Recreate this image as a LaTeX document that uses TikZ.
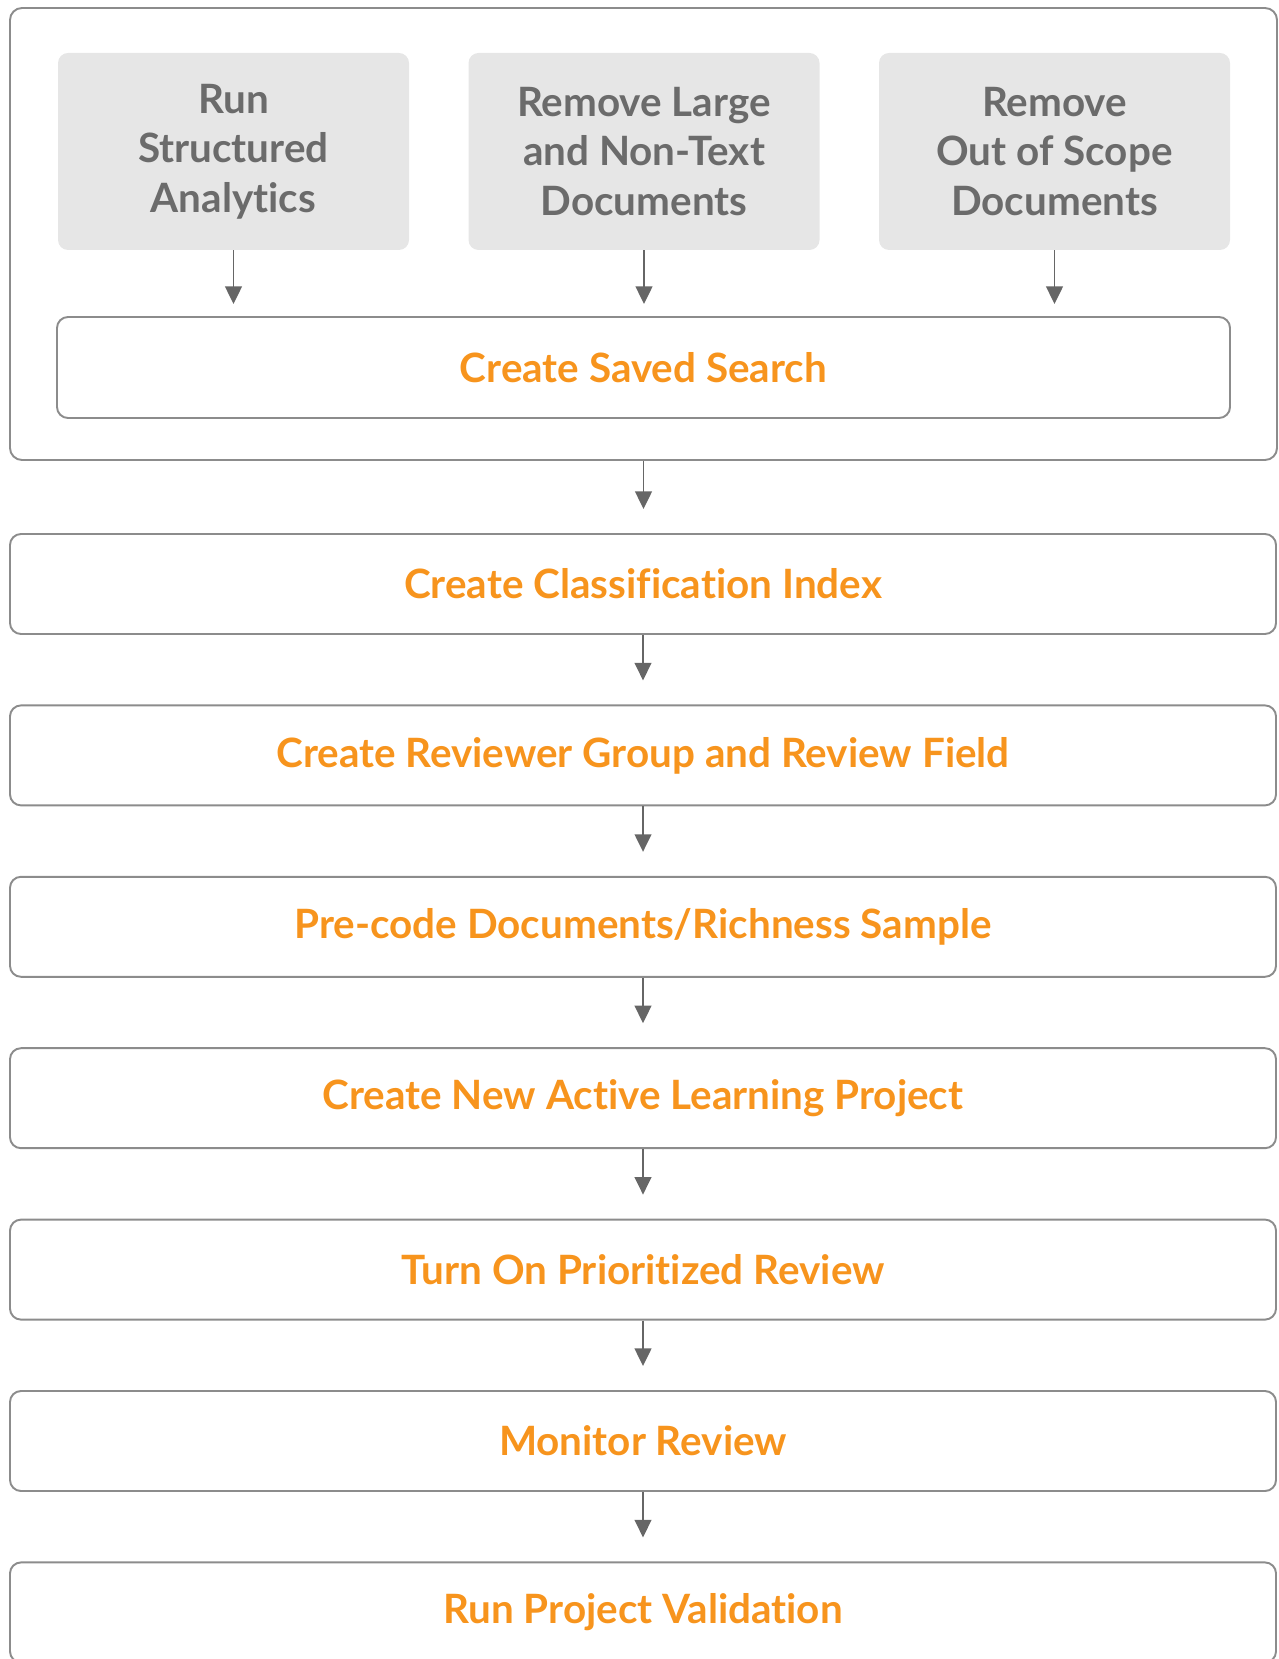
\documentclass[tikz,border=0pt]{standalone}
\usepackage{fontspec}
\setmainfont{Lato}[Ligatures=NoCommon]
\usetikzlibrary{arrows.meta}

\definecolor{stepOrange}{HTML}{F7941D}
\definecolor{frameGray}{HTML}{8C8C8C}
\definecolor{fillGray}{HTML}{E6E6E6}
\definecolor{labelGray}{HTML}{6B6B6B}
\definecolor{arrowGray}{HTML}{666666}

\begin{document}
\begin{tikzpicture}[
  font=\fontsize{23}{28.2}\selectfont\bfseries,
  groupbox/.style={draw=frameGray, line width=1.1pt, rounded corners=0.24cm,
    minimum width=25.34cm, minimum height=9.04cm},
  prebox/.style={fill=fillGray, rounded corners=0.2cm, inner sep=0pt,
    minimum width=7.02cm, minimum height=3.94cm, align=center, text=labelGray},
  stepbox/.style={draw=frameGray, line width=1.1pt, rounded corners=0.22cm,
    minimum width=25.32cm, minimum height=2cm, text=stepOrange},
  flow/.style={draw=arrowGray, line width=1.1pt,
    -{Triangle[width=9.5pt,length=10pt]}}
]
\useasboundingbox (0,0) rectangle (25.56,-33.18);

% Preparation group
\node[groupbox] (group) at (12.87,-4.68) {};
\node[prebox] (analytics) at (4.67,-3.03) {Run\\Structured\\Analytics};
\node[prebox] (nontext) at (12.88,-3.03) {Remove Large\\and Non-Text\\Documents};
\node[prebox] (scope) at (21.09,-3.03) {Remove\\Out of Scope\\Documents};
\node[stepbox, minimum width=23.46cm, minimum height=2.02cm] (saved) at (12.87,-7.35) {Create Saved Search};

\draw[flow, shorten >=0.24cm] (analytics.south) -- (analytics.south |- saved.north);
\draw[flow, shorten >=0.24cm] (nontext.south) -- (nontext.south |- saved.north);
\draw[flow, shorten >=0.24cm] (scope.south) -- (scope.south |- saved.north);

% Main workflow
\node[stepbox] (classify) at (12.86,-11.68) {Create Classification Index};
\node[stepbox] (reviewer) at (12.86,-15.108) {Create Reviewer Group and Review Field};
\node[stepbox] (precode) at (12.86,-18.536) {Pre-code Documents/Richness Sample};
\node[stepbox] (project) at (12.86,-21.964) {Create New Active Learning Project};
\node[stepbox] (prioritized) at (12.86,-25.392) {Turn On Prioritized Review};
\node[stepbox] (monitor) at (12.86,-28.82) {Monitor Review};
\node[stepbox] (validation) at (12.86,-32.248) {Run Project Validation};

\draw[flow, shorten >=0.48cm] (group.south) -- (group.south |- classify.north);
\draw[flow, shorten >=0.48cm] (classify) -- (reviewer);
\draw[flow, shorten >=0.48cm] (reviewer) -- (precode);
\draw[flow, shorten >=0.48cm] (precode) -- (project);
\draw[flow, shorten >=0.48cm] (project) -- (prioritized);
\draw[flow, shorten >=0.48cm] (prioritized) -- (monitor);
\draw[flow, shorten >=0.48cm] (monitor) -- (validation);

\end{tikzpicture}
\end{document}
